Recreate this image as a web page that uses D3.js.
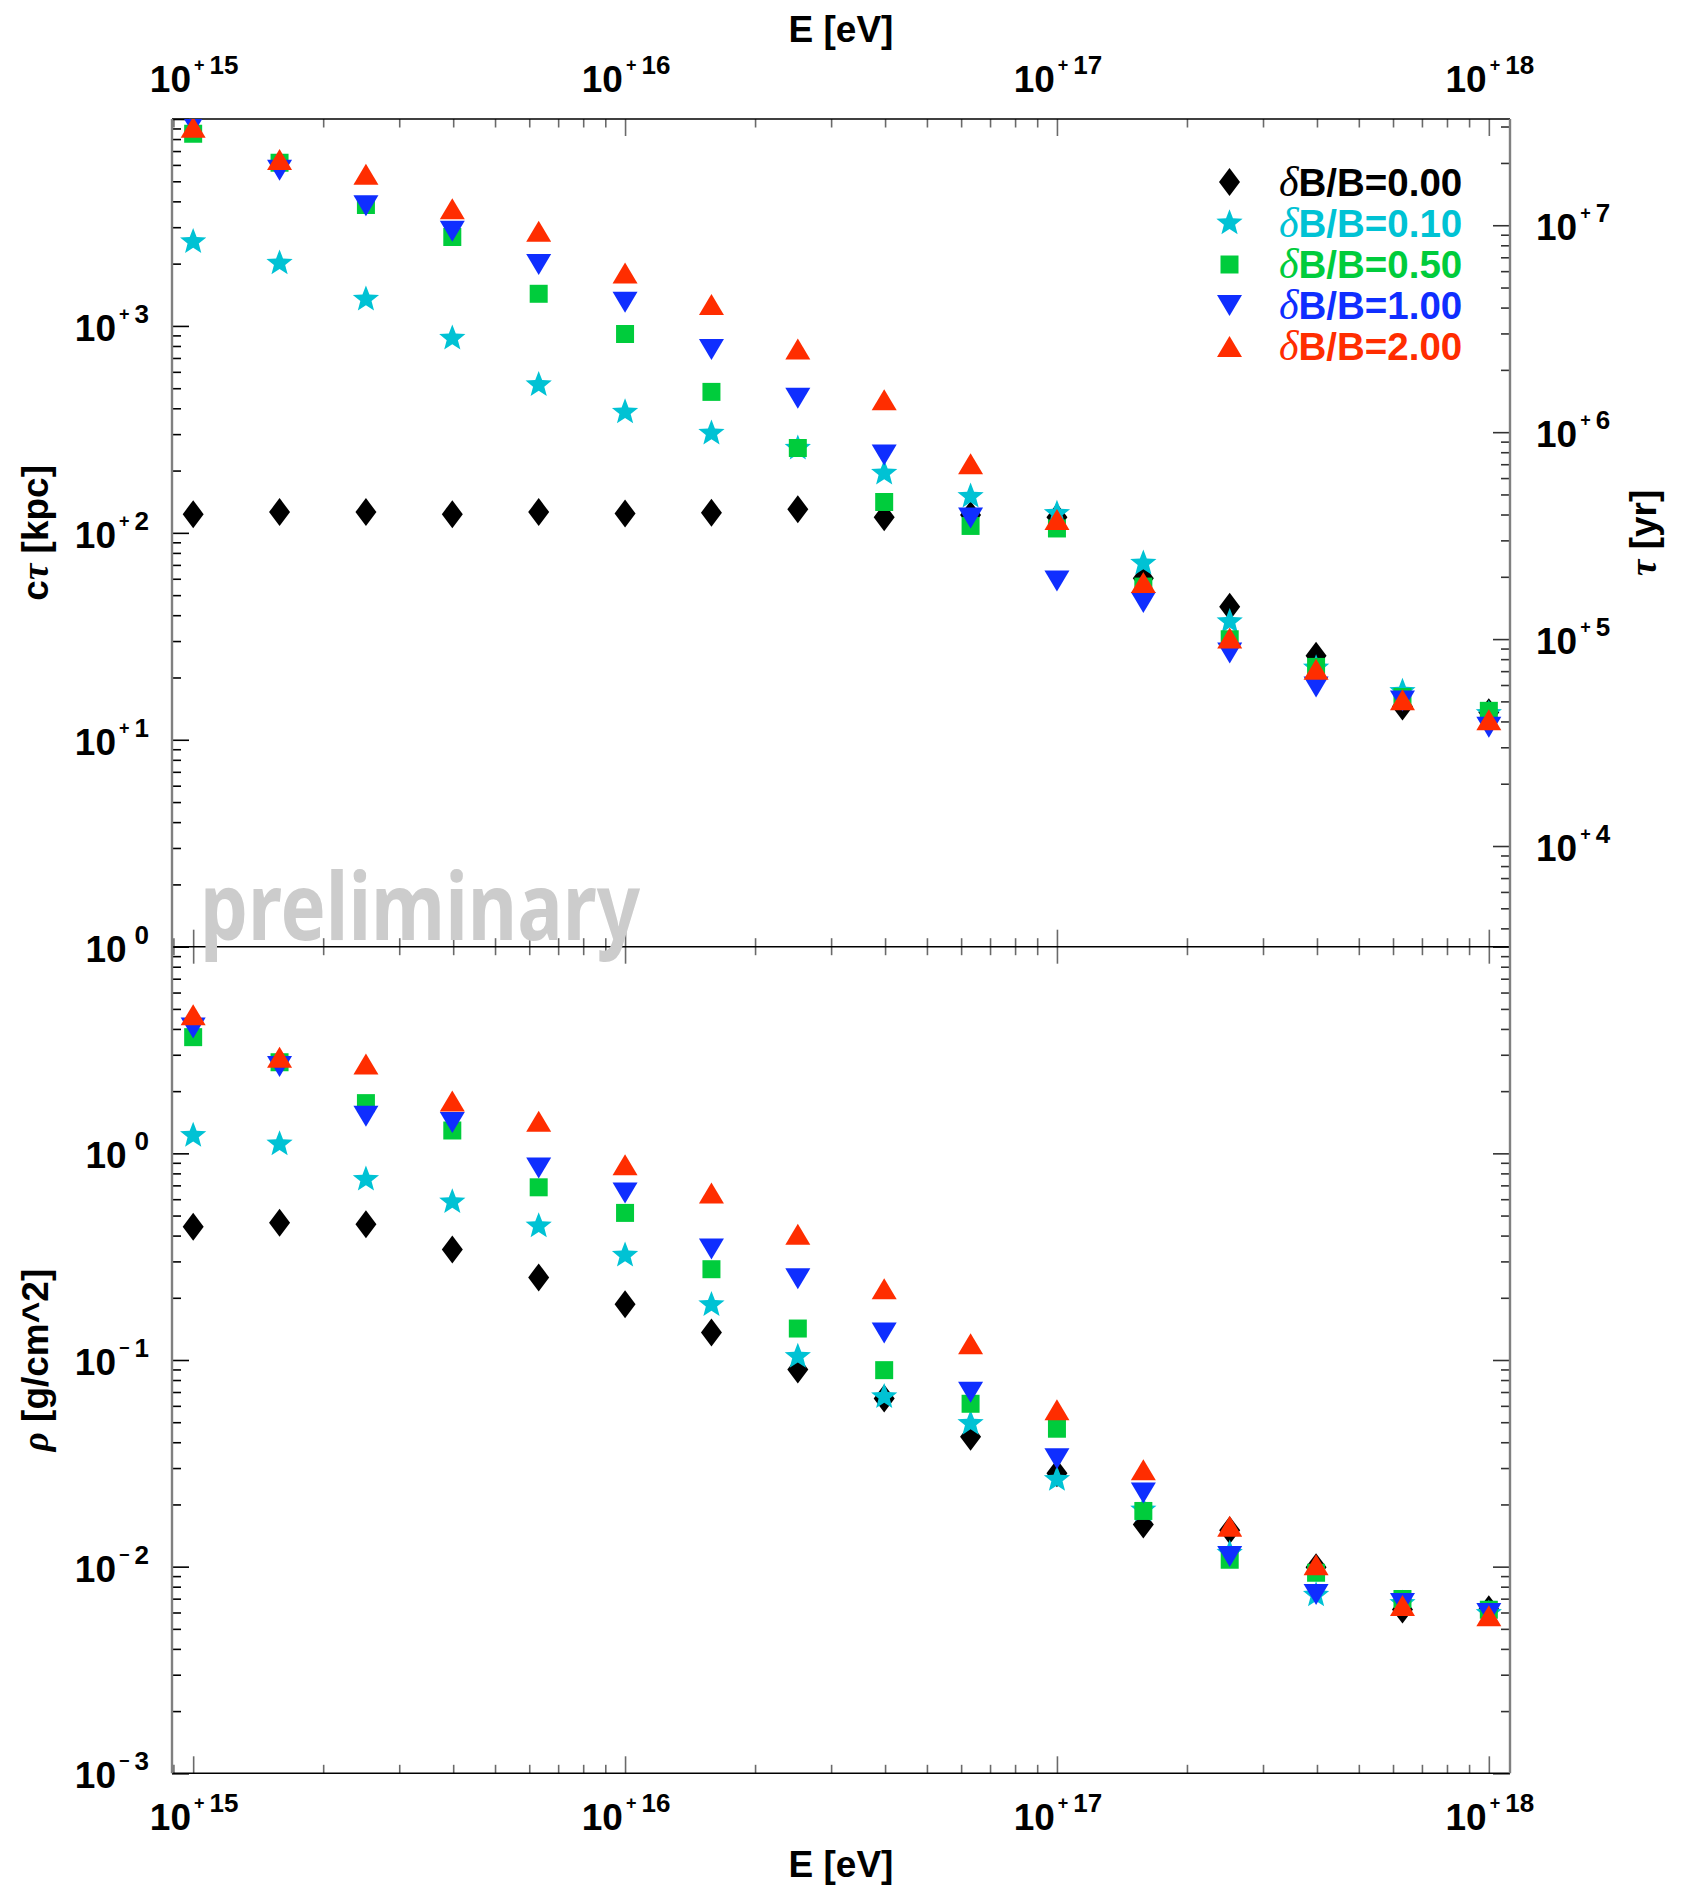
<!DOCTYPE html>
<html><head><meta charset="utf-8">
<script src="https://cdn.jsdelivr.net/npm/d3@7"></script>
<style>body{margin:0;background:#fff} svg{display:block}</style>
</head><body>
<svg id="c" width="1681" height="1888"></svg>
<script>
// ---------------- data ----------------
const energies = [1e15, 1.585e15, 2.512e15, 3.981e15, 6.310e15, 1e16, 1.585e16, 2.512e16, 3.981e16, 6.310e16, 1e17, 1.585e17, 2.512e17, 3.981e17, 6.310e17, 1e18];
const seriesNames = ["0.00", "0.10", "0.50", "1.00", "2.00"];
// c*tau [kpc]
const ctau_000 = [123, 126, 126, 123, 126, 124, 125, 130, 119, 122, 119, 60.4, 44.0, 25.5, 14.5, 13.6];
const ctau_010 = [2550, 2010, 1345, 871, 519, 383, 303, 256, 194, 150, 124, 71.3, 37.2, 22.2, 17.1, 13.4];
const ctau_050 = [8490, 6150, 3840, 2690, 1430, 914, 480, 257, 141, 108, 105, 55.0, 30.6, 22.5, 16.1, 13.8];
const ctau_100 = [9480, 5660, 3810, 2870, 1980, 1300, 769, 447, 238, 118, 58.6, 46.1, 26.3, 18.0, 15.4, 11.5];
const ctau_200 = [9120, 6370, 5400, 3680, 2870, 1800, 1270, 773, 440, 216, 116, 57.5, 31.0, 21.9, 15.6, 12.5];
// rho [g/cm^2]
const rho_000 = [0.441, 0.461, 0.454, 0.343, 0.251, 0.186, 0.136, 0.0900, 0.0652, 0.0425, 0.0283, 0.0160, 0.0150, 0.00993, 0.00621, 0.00622];
const rho_010 = [1.22, 1.11, 0.748, 0.582, 0.445, 0.321, 0.185, 0.104, 0.0664, 0.0493, 0.0264, 0.0188, 0.0116, 0.00728, 0.00664, 0.00594];
const rho_050 = [3.65, 2.76, 1.75, 1.29, 0.685, 0.515, 0.275, 0.142, 0.0893, 0.0614, 0.0465, 0.0186, 0.0108, 0.00935, 0.00697, 0.00618];
const rho_100 = [4.04, 2.63, 1.51, 1.41, 0.849, 0.643, 0.344, 0.247, 0.135, 0.0698, 0.0333, 0.0227, 0.0112, 0.00733, 0.00664, 0.00594];
const rho_200 = [4.69, 2.92, 2.71, 1.79, 1.43, 0.881, 0.643, 0.406, 0.221, 0.120, 0.0575, 0.0294, 0.0157, 0.0102, 0.00649, 0.00578];
// tick label exponents
const xTickExp = [15, 16, 17, 18];
const ctauTickExp = [0, 1, 2, 3];
const tauTickExp = [4, 5, 6, 7];
const rhoTickExp = [-3, -2, -1, 0];
const kpcPerLightYear = 3.066e-4; // c * 1 yr in kpc

// ---------------- style ----------------
const colors = ["#000000", "#00c2d4", "#00cc3c", "#0f2eff", "#ff2d00"];
const F = "'Liberation Sans', Arial, Helvetica, sans-serif";
const FS = "'Liberation Serif', 'DejaVu Serif', serif";
const L = 172, R = 1510, T1 = 119, B1 = 946.7, T2 = 946.7, B2 = 1773.3;

const svg = d3.select("#c");

const x = d3.scaleLog().domain([Math.pow(10, 14.951), Math.pow(10, 18.049)]).range([L, R]);
const yTop = d3.scaleLog().domain([1, 1e4]).range([B1, T1]);
const yTau = d3.scaleLog().domain([1 / kpcPerLightYear, 1e4 / kpcPerLightYear]).range([B1, T1]);
const yBot = d3.scaleLog().domain([1e-3, 10]).range([B2, T2]);

// marker shapes (ROOT-like)
const shapes = [
  { draw(c) { c.moveTo(0, -14); c.lineTo(10.5, 0); c.lineTo(0, 14); c.lineTo(-10.5, 0); c.closePath(); } },
  { draw(c) { const Ro = 13.8, Ri = 5.9; for (let i = 0; i < 10; i++) { const r = i % 2 ? Ri : Ro; const a = -Math.PI / 2 + i * Math.PI / 5; const px = r * Math.cos(a), py = r * Math.sin(a); if (i === 0) c.moveTo(px, py); else c.lineTo(px, py); } c.closePath(); } },
  { draw(c) { c.moveTo(-9, -9); c.lineTo(9, -9); c.lineTo(9, 9); c.lineTo(-9, 9); c.closePath(); } },
  { draw(c) { c.moveTo(-12.5, -10.5); c.lineTo(12.5, -10.5); c.lineTo(0, 10.5); c.closePath(); } },
  { draw(c) { c.moveTo(0, -10.5); c.lineTo(12.5, 10.5); c.lineTo(-12.5, 10.5); c.closePath(); } }
];
const symPaths = shapes.map(s => d3.symbol().type(s)());

// ---------------- ticks ----------------
function logMinors(lo, hi) {
  const out = [];
  for (let e = Math.floor(Math.log10(lo)) - 1; e <= Math.ceil(Math.log10(hi)); e++) {
    for (let m = 2; m <= 9; m++) { const v = m * Math.pow(10, e); if (v >= lo && v <= hi) out.push(v); }
  }
  return out;
}
function logMajors(lo, hi) {
  const out = [];
  for (let e = Math.floor(Math.log10(lo)) - 1; e <= Math.ceil(Math.log10(hi)); e++) { const v = Math.pow(10, e); if (v >= lo * 0.9999 && v <= hi * 1.0001) out.push(v); }
  return out;
}
function tickAxis(axisFn, scale, values, len, transform, color, width) {
  const ax = axisFn(scale).tickValues(values).tickSizeInner(-len).tickSizeOuter(0).tickFormat("");
  const g = svg.append("g").attr("transform", transform).call(ax);
  g.select(".domain").remove();
  g.selectAll(".tick text").remove();
  g.selectAll(".tick line").attr("stroke", color).attr("stroke-width", width);
}
const xd = x.domain();
const xMaj = logMajors(xd[0], xd[1]), xMin = logMinors(xd[0], xd[1]);
const xc = "#6a6a6a";
[[d3.axisTop, T1], [d3.axisBottom, B1], [d3.axisTop, T2], [d3.axisBottom, B2]].forEach(([fn, yy]) => {
  tickAxis(fn, x, xMaj, 17, `translate(0,${yy})`, xc, 1.6);
  tickAxis(fn, x, xMin, 8.5, `translate(0,${yy})`, xc, 1.6);
});
function yTicks(scale, fn, xx, color) {
  const d = scale.domain();
  tickAxis(fn, scale, logMajors(d[0], d[1]), 17, `translate(${xx},0)`, color, 1.6);
  tickAxis(fn, scale, logMinors(d[0], d[1]), 9, `translate(${xx},0)`, color, 1.6);
}
yTicks(yTop, d3.axisLeft, L, "#000");
yTicks(yBot, d3.axisLeft, L, "#000");
yTicks(yTau, d3.axisRight, R, "#333");
yTicks(yBot, d3.axisRight, R, "#333");

// frame
const frame = svg.append("g");
[T1, B1, B2].forEach(yy => frame.append("line").attr("x1", L).attr("x2", R).attr("y1", yy).attr("y2", yy).attr("stroke", "#000").attr("stroke-width", 1.6));
[L, R].forEach(xx => frame.append("line").attr("x1", xx).attr("x2", xx).attr("y1", T1).attr("y2", B2).attr("stroke", "#808080").attr("stroke-width", 2.4));

// ---------------- tick labels ----------------
function powLabel(xx, yy, exp, anchor) {
  const t = svg.append("text").attr("x", xx).attr("y", yy).attr("text-anchor", anchor)
    .attr("font-family", F).attr("font-weight", "bold").attr("fill", "#000");
  t.append("tspan").attr("font-size", 37).text("10");
  if (exp !== 0) {
    t.append("tspan").attr("font-size", 18).attr("dx", 3).attr("dy", -21).text(exp > 0 ? "+" : "\u2212");
    t.append("tspan").attr("font-size", 26).attr("dx", 5).attr("dy", 3).text(Math.abs(exp));
  } else {
    t.append("tspan").attr("font-size", 26).attr("dx", 8).attr("dy", -18).text("0");
  }
}
xTickExp.forEach(e => { powLabel(x(Math.pow(10, e)) + 1, 92, e, "middle"); powLabel(x(Math.pow(10, e)) + 1, 1830, e, "middle"); });
ctauTickExp.forEach(e => powLabel(149, yTop(Math.pow(10, e)) + 15, e, "end"));
rhoTickExp.forEach(e => powLabel(149, yBot(Math.pow(10, e)) + 15, e, "end"));
tauTickExp.forEach(e => powLabel(1536, yTau(Math.pow(10, e)) + 15, e, "start"));

// ---------------- axis titles ----------------
function title(xx, yy, rot, parts) {
  const t = svg.append("text").attr("transform", `translate(${xx},${yy}) rotate(${rot})`).attr("text-anchor", "middle")
    .attr("font-size", 37).attr("font-weight", "bold").attr("font-family", F).attr("fill", "#000");
  parts.forEach(p => { const s = t.append("tspan").text(p.t); if (p.g) s.attr("font-family", FS).attr("font-style", "italic"); });
}
title((L + R) / 2, 42, 0, [{ t: "E [eV]" }]);
title((L + R) / 2, 1877, 0, [{ t: "E [eV]" }]);
title(48, (T1 + B1) / 2, -90, [{ t: "c" }, { t: "\u03c4", g: 1 }, { t: " [kpc]" }]);
title(1656, (T1 + B1) / 2, -90, [{ t: "\u03c4", g: 1 }, { t: " [yr]" }]);
title(48, (T2 + B2) / 2, -90, [{ t: "\u03c1", g: 1 }, { t: " [g/cm^2]" }]);

// ---------------- markers ----------------
const defs = svg.append("defs");
defs.append("clipPath").attr("id", "clipTop").append("rect").attr("x", L).attr("y", T1).attr("width", R - L).attr("height", B1 - T1);
defs.append("clipPath").attr("id", "clipBot").append("rect").attr("x", L).attr("y", T2).attr("width", R - L).attr("height", B2 - T2);
const ctauSeries = [ctau_000, ctau_010, ctau_050, ctau_100, ctau_200];
const rhoSeries = [rho_000, rho_010, rho_050, rho_100, rho_200];
const gTop = svg.append("g").attr("clip-path", "url(#clipTop)");
const gBot = svg.append("g").attr("clip-path", "url(#clipBot)");
function drawSeries(g, series, yScale) {
  series.forEach((vals, i) => {
    g.append("g").selectAll("path").data(vals.map((v, k) => [energies[k], v])).join("path")
      .attr("d", symPaths[i]).attr("fill", colors[i])
      .attr("transform", d => `translate(${x(d[0])},${yScale(d[1])})`);
  });
}
drawSeries(gTop, ctauSeries, yTop);
drawSeries(gBot, rhoSeries, yBot);

// ---------------- legend ----------------
const legRows = [182, 223, 264.5, 305.5, 346.5];
seriesNames.forEach((n, i) => {
  svg.append("path").attr("d", symPaths[i]).attr("fill", colors[i]).attr("transform", `translate(1229.5,${legRows[i]})`);
  const t = svg.append("text").attr("x", 1279).attr("y", legRows[i] + 13.5).attr("font-size", 38.5).attr("font-weight", "bold")
    .attr("font-family", F).attr("fill", colors[i]);
  t.append("tspan").attr("font-family", FS).attr("font-style", "italic").attr("font-weight", "normal").attr("font-size", 42).text("\u03b4");
  t.append("tspan").text("B/B=" + n);
});

// ---------------- watermark ----------------
svg.append("text").attr("x", 200).attr("y", 940).attr("font-family", "'Noto Sans', 'DejaVu Sans', sans-serif")
  .attr("font-weight", "bold").attr("font-size", 93).attr("fill", "#cccccc")
  .attr("textLength", 440).attr("lengthAdjust", "spacingAndGlyphs").text("preliminary");
</script>
</body></html>
